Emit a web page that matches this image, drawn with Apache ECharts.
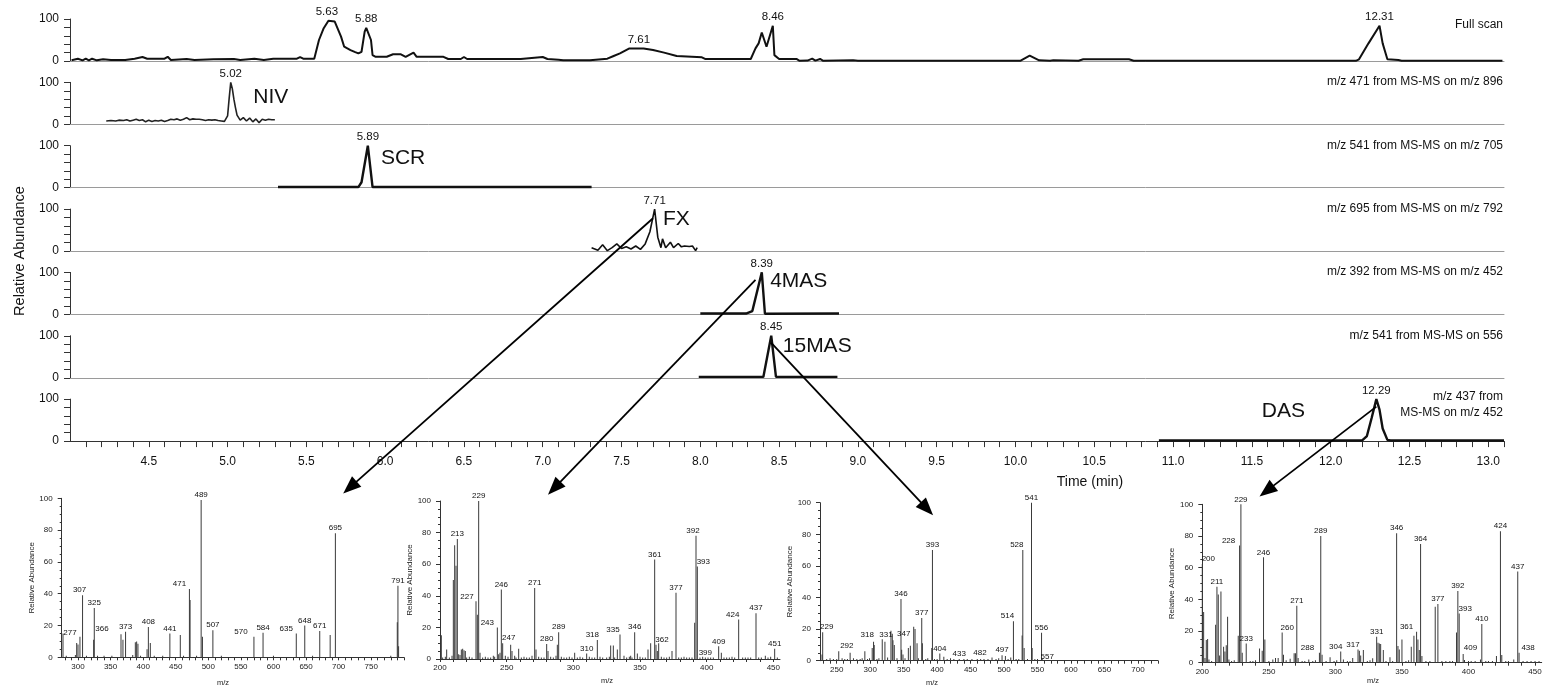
<!DOCTYPE html>
<html><head><meta charset="utf-8">
<script src="https://cdn.jsdelivr.net/npm/echarts@6/dist/echarts.min.js"></script>
<style>html,body{margin:0;padding:0;background:#fff}#c{width:1543px;height:692px}</style>
</head><body><div id="c"></div><script>
// ---------------- DATA ----------------
const timeTickLabels = [4.5,5.0,5.5,6.0,6.5,7.0,7.5,8.0,8.5,9.0,9.5,10.0,10.5,11.0,11.5,12.0,12.5,13.0];

const fullScan = [[4.01,2],[4.05,5.5],[4.08,1.6],[4.10,5.5],[4.12,1.6],[4.14,5.5],[4.17,1.6],[4.21,4],[4.26,2.4],[4.35,2.4],[4.41,5.5],[4.46,9.5],[4.49,5.5],[4.60,5.5],[4.62,10],[4.64,2.4],[4.74,4.8],[4.79,2.4],[4.91,4],[5.04,4.8],[5.08,2.4],[5.17,5.5],[5.23,2.4],[5.29,5.5],[5.44,5.5],[5.46,9.5],[5.48,5.5],[5.55,5.5],[5.58,50],[5.61,78],[5.64,96],[5.68,94],[5.72,58],[5.74,34],[5.78,26],[5.81,21],[5.83,18],[5.85,22],[5.87,70],[5.88,79],[5.91,50],[5.92,14],[5.94,10],[6.01,10],[6.05,16],[6.10,16],[6.13,10],[6.18,20],[6.20,10],[6.37,10],[6.40,4.8],[6.48,4.8],[6.50,9.5],[6.52,4.8],[6.86,4.8],[7.00,9.5],[7.03,4.8],[7.10,3],[7.13,1.6],[7.30,1.6],[7.31,5.5],[7.41,5.5],[7.45,12],[7.49,18],[7.55,30],[7.64,30],[7.70,26],[7.77,20],[7.85,12],[8.01,8.7],[8.03,4.8],[8.32,4.8],[8.35,30],[8.37,42],[8.39,68],[8.42,34],[8.46,84],[8.47,14],[8.50,4.8],[8.61,4.8],[8.63,0.5],[8.68,1],[8.71,5.5],[8.73,1],[8.76,4.8],[8.78,0.5],[8.97,1.6],[8.98,4],[9.00,0.5],[10.03,0.5],[10.09,12.7],[10.15,1.6],[10.22,0.5],[10.24,2],[10.40,0.5],[10.43,4],[10.72,4],[10.75,0.5],[12.16,0.5],[12.18,4],[12.24,42],[12.31,84],[12.33,42],[12.36,4],[12.43,2.4],[12.45,0.5],[13.09,0.5]];

const nivTrace = [[4.23,8],[4.26,9],[4.29,8],[4.31,10],[4.34,9],[4.36,11],[4.38,8],[4.40,10],[4.42,12],[4.44,9],[4.46,11],[4.48,6],[4.50,10],[4.52,7],[4.54,9],[4.56,8],[4.58,10],[4.60,7],[4.62,9],[4.64,12],[4.66,11],[4.68,13],[4.70,10],[4.72,12],[4.74,16],[4.76,11],[4.78,13],[4.80,12],[4.82,12],[4.84,11],[4.86,9],[4.88,11],[4.90,10],[4.92,11],[4.94,9],[4.96,8],[4.98,7],[4.99,8],[5.00,20],[5.01,62],[5.02,100],[5.03,85],[5.04,60],[5.05,40],[5.06,22],[5.08,10],[5.10,16],[5.12,8],[5.14,15],[5.16,6],[5.18,13],[5.20,4],[5.22,12],[5.24,10],[5.26,12],[5.28,11],[5.30,11]];

const scrTrace = [[5.32,1.5],[5.83,1.5],[5.85,13],[5.89,100],[5.92,1.5],[7.31,1.5]];

const fxTrace = [[7.31,8],[7.32,12],[7.35,2],[7.38,15],[7.41,1],[7.44,8],[7.47,17],[7.50,6],[7.53,10],[7.56,5],[7.59,12],[7.62,4],[7.65,17],[7.68,46],[7.71,100],[7.73,33],[7.75,8],[7.76,29],[7.78,8],[7.81,21],[7.83,8],[7.86,18],[7.88,10],[7.90,12],[7.93,11],[7.95,12],[7.97,1],[7.98,8]];

const mas4Trace = [[8.00,2],[8.29,2],[8.33,8],[8.39,100],[8.41,1.5],[8.88,2]];

const mas15Trace = [[7.99,2],[8.40,2],[8.45,100],[8.48,2],[8.87,2]];

const dasTrace = [[10.91,1.5],[12.20,1.5],[12.23,12],[12.26,55],[12.29,100],[12.31,75],[12.33,30],[12.36,3],[12.38,1.5],[13.10,1.5]];

const traceTitles = ['Full scan','m/z 471 from MS-MS on m/z 896','m/z 541 from MS-MS on m/z 705','m/z 695 from MS-MS on m/z 792','m/z 392 from MS-MS on m/z 452','m/z 541 from MS-MS on 556','m/z 437 from\nMS-MS on m/z 452'];
const compoundNames = [null,'NIV','SCR','FX','4MAS','15MAS','DAS'];
const peakLabels = [['5.63','5.88','7.61','8.46','12.31'],['5.02'],['5.89'],['7.71'],['8.39'],['8.45'],['12.29']];

// spectra: [m/z, relative abundance]
const fxSpec = [[277,15],[298,9],[300,8],[303,13],[307,39],[324,11],[325,31],[366,14.5],[369,11],[373,16],[388,9.5],[390,10],[392,8.5],[406,5],[408,19],[411,9],[441,15],[457,14],[471,43],[472,36],[489,99],[491,13],[507,17],[570,13],[584,15.5],[635,15],[648,20],[671,16.5],[687,14],[695,78],[790,22],[791,45],[792,7]];
const fxNoise = [[282,1],[296,1.5],[313,1],[330,1],[340,1],[352,1],[384,1.5],[396,1],[417,1],[430,1],[462,1],[482,1],[520,1],[600,1],[660,1],[780,1]];
const fxLabeled = [277,307,325,366,373,408,441,471,489,507,570,584,635,648,671,695,791];
const fxTicks = [300,350,400,450,500,550,600,650,700,750];

const mas4Spec = [[201,15],[205,6],[210,50],[211,72],[212,59],[213,76],[216,6],[217,6.5],[218,5.5],[219,5],[227,36.5],[228,28],[229,100],[230,4],[243,20],[245,4],[246,44],[247,10],[253,9],[254,5],[259,6.5],[271,45],[272,6],[280,9.5],[281,5],[288,9],[289,17],[301,4],[310,3.5],[318,12],[328,8.6],[330,8.6],[333,6],[335,15.5],[338,2],[343,2],[346,17],[348,3.5],[356,6],[358,10],[361,63],[362,9],[363,5],[364,10],[374,5],[377,42],[391,23],[392,78],[393,58.5],[399,1],[409,8],[411,4],[424,25],[437,29],[444,2],[451,6.5]];
const mas4Noise = [[202,1],[204,1.5],[207,1],[209,2],[214,3],[215,2.5],[220,1],[222,1.5],[224,1],[232,1],[234,1.5],[236,1],[238,1],[240,2],[241,1.5],[244,3],[249,2],[251,1.5],[256,2],[257,1],[261,1],[263,1.5],[265,1],[267,1],[269,2],[274,1.5],[276,1],[278,1],[283,1.5],[285,1],[287,2],[291,1.5],[293,1],[295,1],[297,1.5],[299,1],[303,1],[305,1.5],[307,1],[312,1.5],[314,1],[316,1],[320,1.5],[322,1],[325,1],[327,1.5],[331,1],[340,1],[342,1.5],[344,1],[350,1.5],[352,1],[354,1],[366,1.5],[368,1],[370,1],[372,1.5],[379,1],[381,1],[383,1.5],[385,1],[387,1],[389,1],[395,1],[397,1.5],[401,1],[403,1],[405,1],[413,1],[415,1],[417,1],[419,1.5],[421,1],[427,1],[429,1],[431,1],[433,1],[439,1],[441,1],[446,1],[448,1.5],[453,1]];
const mas4Labeled = [213,227,229,243,246,247,271,280,289,310,318,335,346,361,362,377,392,393,399,409,424,437,451];
const mas4Ticks = [200,250,300,350,400,450];

const mas15Spec = [[228,4],[229,18],[253,6],[270,5],[292,6],[303,8],[305,12],[306,10],[318,13.5],[322,12],[331,19],[333,17],[334,13],[336,10],[346,39],[347,7],[349,4],[357,8],[360,9.5],[365,21.5],[367,20],[370,11],[377,27],[378,11],[392,8],[393,70],[404,4.6],[410,2.5],[433,1],[482,2],[497,3.5],[502,3],[510,2],[514,25],[527,16],[528,70],[530,8],[541,100],[542,8],[556,17.7],[557,1.5]];
const mas15Noise = [[235,1],[240,1.5],[245,1],[250,1],[258,1.5],[262,1],[266,1],[275,1.5],[280,1],[285,1],[288,1.5],[296,1],[299,1.5],[310,1],[313,1.5],[326,2],[340,1.5],[352,1.5],[372,1.5],[383,1],[386,1.5],[396,1],[400,1],[415,1],[420,1.5],[425,1],[440,1],[445,1],[452,1],[460,1],[465,1],[470,1],[476,1],[488,1],[492,1.5],[506,1],[518,1],[522,1],[535,1],[546,1],[550,1],[562,0.5],[570,0.5]];
const mas15Labeled = [229,292,318,331,346,347,377,393,404,433,482,497,514,528,541,556,557];
const mas15Ticks = [250,300,350,400,450,500,550,600,650,700];

const dasSpec = [[200,62.3],[201,32],[202,3],[203,14.3],[204,15],[205,2],[210,24],[211,48],[212,43],[213,4.6],[214,45],[216,10],[217,7],[218,11],[219,29],[220,2],[227,17],[228,74],[229,100],[230,6.3],[233,12.2],[243,9],[245,7.6],[246,66.5],[247,14.7],[253,2],[255,3],[257,3],[260,19],[261,5],[266,2.5],[269,6],[270,6],[271,36],[272,3],[280,2],[288,6.3],[289,80],[290,5],[296,3.4],[304,7],[306,2],[313,3],[317,8.4],[318,7.6],[319,4.6],[321,8],[328,2.8],[331,16.4],[332,12.6],[333,12.2],[334,11.8],[336,8],[341,3.4],[346,81.7],[347,10.5],[348,8.4],[350,14.7],[357,10],[359,17],[361,19.6],[362,14.7],[363,8],[364,75],[365,4.2],[375,35.4],[377,37],[391,19],[392,45.3],[393,31],[396,5.5],[397,1.7],[409,2],[410,24.4],[421,4.2],[424,83],[425,4.8],[434,2],[437,57.5],[438,6.3]];
const dasNoise = [[207,1],[222,1],[224,1.5],[236,1],[238,1],[240,1.5],[250,1],[263,1.5],[275,1],[277,1],[283,1],[285,1.5],[293,1],[299,1],[301,1.5],[309,1],[311,1],[324,1],[326,1.5],[338,1],[343,1],[353,1],[355,1.5],[368,1],[371,1],[380,1],[383,1],[386,1],[388,1],[400,1],[402,1],[405,1],[413,1],[415,1],[418,1],[428,1],[430,1],[441,1],[444,1],[447,1],[450,1],[453,1]];
const dasLabeled = [200,211,228,229,233,246,260,271,288,289,304,317,331,346,361,364,377,392,393,409,410,424,437,438];
const dasTicks = [200,250,300,350,400,450];

// ---------------- LAYOUT / STYLE ----------------
const FONT = '"Liberation Sans", Arial, sans-serif';
const CH_LEFT = 70, CH_W = 1434, CH_H = 42;
const chTop = i => 19 + i * 63.35;
const T_MIN = 4.0, T_MAX = 13.1;
function range(a, b, s) { const o = []; for (let v = a; v <= b + 1e-9; v += s) o.push(Math.round(v * 100) / 100); return o; }
const timeMinorTicks = range(4.1, 13.1, 0.1);

const chromColors = ['#111','#222','#111','#111','#111','#111','#111'];
const chromWidths = [2, 1.6, 2.4, 1.6, 2.4, 2.4, 2.4];
const chromTraces = [fullScan, nivTrace, scrTrace, fxTrace, mas4Trace, mas15Trace, dasTrace];
const nameAnchors = [null,[5.16,64],[5.97,70],[7.76,77],[8.44,79],[8.52,76],[11.56,71]];

const spectra = [
  {main: fxSpec, noise: fxNoise, labeled: fxLabeled, ticks: fxTicks, min: 275, max: 800,
   grid: {left: 61.7, top: 498.3, width: 342.1, height: 159},
   nudge: {277:[7,4],307:[-3,0],366:[-19,0],471:[-10,0],570:[-13,0],635:[-10,0]}, mzPos: [223,683]},
  {main: mas4Spec, noise: mas4Noise, labeled: mas4Labeled, ticks: mas4Ticks, min: 200, max: 455,
   grid: {left: 440, top: 501, width: 340, height: 158},
   nudge: {227:[-9,0],243:[-10,0],247:[6,0],318:[-5,0],335:[-7,0],362:[6,0],393:[6,0],424:[-6,0],392:[-3,0]}, mzPos: [607,681]},
  {main: mas15Spec, noise: mas15Noise, labeled: mas15Labeled, ticks: mas15Ticks, min: 225, max: 730,
   grid: {left: 820, top: 502.7, width: 338, height: 158},
   nudge: {229:[4,0],292:[-18,0],318:[-15,0],331:[-5,9],347:[2,-11],482:[-12,0],514:[-6,0],528:[-6,0],557:[5,3]}, mzPos: [932,683]},
  {main: dasSpec, noise: dasNoise, labeled: dasLabeled, ticks: dasTicks, min: 200, max: 455,
   grid: {left: 1202.3, top: 504.3, width: 339.4, height: 158.4},
   nudge: {200:[6,0],228:[-11,0],260:[5,0],288:[-12,0],304:[-5,0],317:[-5,0],361:[-10,0],393:[6,0],409:[-10,-7],438:[9,0]}, mzPos: [1373,681]}
];

const arrowLinks = [
  {fromGrid: 3, from: [7.70, 78], toGrid: 7, to: [707, 103]},
  {fromGrid: 4, from: [8.35, 82], toGrid: 8, to: [281, 104]},
  {fromGrid: 5, from: [8.45, 83], toGrid: 9, to: [394, 92]},
  {fromGrid: 6, from: [12.29, 82], toGrid: 10, to: [243, 105]}
];

// ---------------- OPTION ----------------
const grids = [], xAxes = [], yAxes = [], series = [];

chromTraces.forEach((trace, i) => {
  grids.push({left: CH_LEFT, top: chTop(i), width: CH_W, height: CH_H, outerBoundsMode: 'none', containLabel: false});
  const last = i === 6;
  xAxes.push({
    type: 'value', gridIndex: i, min: T_MIN, max: T_MAX,
    axisLine: {show: true, onZero: false, lineStyle: {color: last ? '#333' : '#9a9a9a', width: 1}},
    axisTick: {show: last, length: 6, lineStyle: {color: '#333'}, customValues: timeMinorTicks},
    axisLabel: {show: last, customValues: timeTickLabels, formatter: v => Number(v).toFixed(1),
      fontSize: 12, color: '#111', margin: 15, fontFamily: FONT},
    splitLine: {show: false}
  });
  yAxes.push({
    type: 'value', gridIndex: i, min: 0, max: 100, interval: 20,
    axisLine: {show: true, onZero: false, lineStyle: {color: '#333'}},
    axisTick: {show: true, length: 6, lineStyle: {color: '#333'}},
    axisLabel: {formatter: v => (v === 0 || v === 100) ? String(v) : '', fontSize: 12, color: '#111', margin: 11, fontFamily: FONT},
    splitLine: {show: false}
  });
  const mp = [];
  peakLabels[i].forEach(lbl => {
    const t = parseFloat(lbl);
    let best = null;
    trace.forEach(p => { if (Math.abs(p[0] - t) <= 0.06 && (!best || p[1] > best[1])) best = p; });
    mp.push({coord: [t, best ? best[1] : 100], symbol: 'circle', symbolSize: 1, itemStyle: {color: 'rgba(0,0,0,0)'},
      label: {show: true, formatter: lbl, position: 'top', distance: 2, fontSize: 11.5, color: '#111', fontFamily: FONT}});
  });
  if (compoundNames[i]) {
    mp.push({coord: nameAnchors[i], symbol: 'circle', symbolSize: 1, itemStyle: {color: 'rgba(0,0,0,0)'},
      label: {show: true, formatter: compoundNames[i], position: 'right', distance: 0, fontSize: 21, color: '#111', fontFamily: FONT}});
  }
  series.push({
    type: 'line', xAxisIndex: i, yAxisIndex: i, data: trace, showSymbol: false, symbol: 'none',
    lineStyle: {color: chromColors[i], width: chromWidths[i]}, clip: false, silent: true, animation: false,
    markPoint: {silent: true, animation: false, data: mp}
  });
});

spectra.forEach((s, k) => {
  const g = 7 + k;
  grids.push(Object.assign({outerBoundsMode: 'none', containLabel: false}, s.grid));
  xAxes.push({
    type: 'value', gridIndex: g, min: s.min, max: s.max,
    axisLine: {show: true, onZero: false, lineStyle: {color: '#333', width: 1}},
    axisTick: {show: true, length: 3, lineStyle: {color: '#333'}, customValues: range(Math.ceil(s.min / 10) * 10, s.max, 10)},
    axisLabel: {customValues: s.ticks, fontSize: 8, color: '#222', margin: 5, fontFamily: FONT},
    splitLine: {show: false}
  });
  yAxes.push({
    type: 'value', gridIndex: g, min: 0, max: 100, interval: 20,
    axisLine: {show: true, onZero: false, lineStyle: {color: '#333'}},
    axisTick: {show: true, length: 4, lineStyle: {color: '#333'}},
    minorTick: {show: true, splitNumber: 4, length: 2, lineStyle: {color: '#333'}},
    axisLabel: {fontSize: 8, color: '#222', margin: 9, fontFamily: FONT},
    splitLine: {show: false},
    name: 'Relative Abundance', nameLocation: 'middle', nameGap: 23,
    nameTextStyle: {fontSize: 8, color: '#222', fontFamily: FONT}
  });
  const data = s.noise.map(p => ({value: p})).concat(s.main.map(p => {
    const item = {value: p};
    if (s.labeled.includes(p[0])) {
      item.label = {show: true, formatter: String(p[0]), offset: s.nudge[p[0]] || [0, 0]};
    }
    return item;
  }));
  series.push({
    type: 'bar', xAxisIndex: g, yAxisIndex: g, data, barWidth: 1, silent: true, animation: false,
    itemStyle: {color: '#3a3a3a'},
    label: {show: false, position: 'top', distance: 1, fontSize: 8, color: '#111', fontFamily: FONT}
  });
});

const staticGraphics = [];
traceTitles.forEach((txt, i) => {
  staticGraphics.push({type: 'text', x: 1503, y: i === 0 ? 25 : (i === 6 ? 405 : chTop(i) - 0.5), z: 50,
    style: {text: txt, fontSize: 12, fontFamily: FONT, fill: '#111', align: 'right', verticalAlign: 'middle', lineHeight: 16}});
});
staticGraphics.push({type: 'text', x: 20, y: 251, rotation: Math.PI / 2, z: 50,
  style: {text: 'Relative Abundance', fontSize: 14.5, fontFamily: FONT, fill: '#111', align: 'center', verticalAlign: 'middle'}});
staticGraphics.push({type: 'text', x: 1090, y: 482, z: 50,
  style: {text: 'Time (min)', fontSize: 14, fontFamily: FONT, fill: '#111', align: 'center', verticalAlign: 'middle'}});
spectra.forEach(s => {
  staticGraphics.push({type: 'text', x: s.mzPos[0], y: s.mzPos[1], z: 50,
    style: {text: 'm/z', fontSize: 7.5, fontFamily: FONT, fill: '#222', align: 'center', verticalAlign: 'middle'}});
});

const chart = echarts.init(document.getElementById('c'), null, {renderer: 'canvas'});
chart.setOption({
  animation: false, backgroundColor: '#fff',
  grid: grids, xAxis: xAxes, yAxis: yAxes, series,
  graphic: staticGraphics
});

const arrowGfx = [];
arrowLinks.forEach(a => {
  const p0 = chart.convertToPixel({gridIndex: a.fromGrid}, a.from);
  const p1 = chart.convertToPixel({gridIndex: a.toGrid}, a.to);
  const dx = p1[0] - p0[0], dy = p1[1] - p0[1], L = Math.hypot(dx, dy);
  const ux = dx / L, uy = dy / L, HL = 18, HW = 7;
  const bx = p1[0] - ux * HL, by = p1[1] - uy * HL;
  arrowGfx.push({type: 'line', z: 100, shape: {x1: p0[0], y1: p0[1], x2: bx + ux * 2, y2: by + uy * 2},
    style: {stroke: '#000', lineWidth: 1.8}});
  arrowGfx.push({type: 'polygon', z: 100, shape: {points: [[p1[0], p1[1]], [bx - uy * HW, by + ux * HW], [bx + uy * HW, by - ux * HW]]},
    style: {fill: '#000'}});
});
chart.setOption({graphic: staticGraphics.concat(arrowGfx)});
</script></body></html>
